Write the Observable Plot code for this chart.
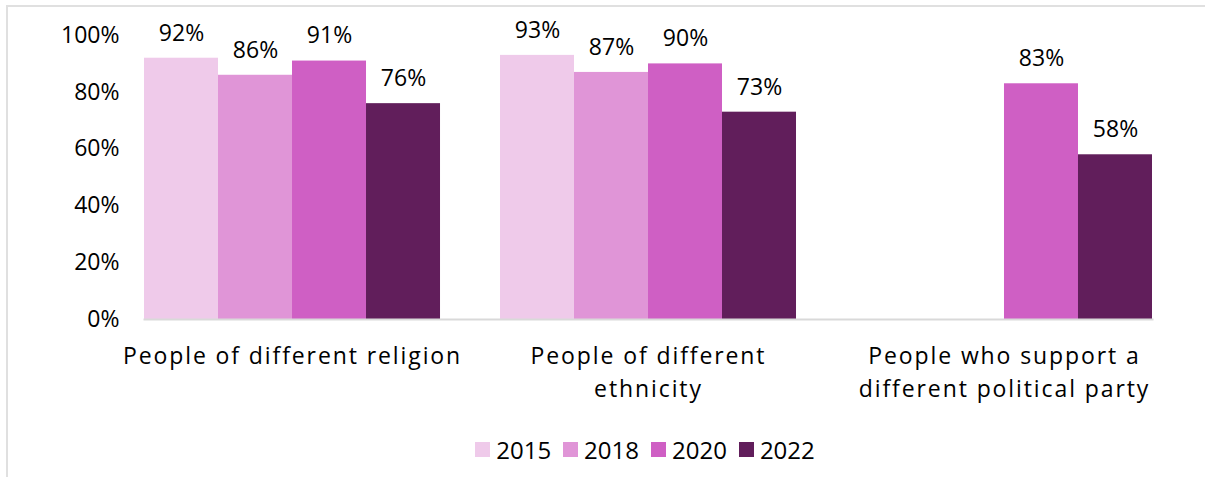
<!DOCTYPE html>
<html>
<head>
<meta charset="utf-8">
<script src="https://cdn.jsdelivr.net/npm/d3@7"></script>
<script src="https://cdn.jsdelivr.net/npm/@observablehq/plot@0.6"></script>
<style>
  html, body { margin: 0; padding: 0; background: #fff; }
  body { width: 1205px; height: 477px; position: relative; overflow: hidden; font-family: "Open Sans", sans-serif; }
  #chart { position: absolute; left: 0; top: 0; }
  #chart g[aria-label="fx-axis tick label"] text { letter-spacing: 1.9px; }
  .bt { position: absolute; left: 6px; top: 5px; width: 1199px; height: 2px; background: #e0e0e0; }
  .bl { position: absolute; left: 6px; top: 5px; width: 2px; height: 472px; background: #e0e0e0; }
  #legend { position: absolute; top: 433px; left: 0; width: 1290px; display: flex; justify-content: center; align-items: center; font-size: 24px; color: #000; }
  .item { display: flex; align-items: center; margin: 0 6px; }
  .sw { width: 15px; height: 15px; margin-right: 6px; }
</style>
</head>
<body>
<div class="bt"></div>
<div class="bl"></div>
<div id="chart"></div>
<div id="legend"></div>
<script>
const categories = ["People of different religion", "People of different ethnicity", "People who support a different political party"];
const categoryLabels = ["People of different religion", "People of different\nethnicity", "People who support a\ndifferent political party"];
const years = ["2015", "2018", "2020", "2022"];
const religion = [92, 86, 91, 76];
const ethnicity = [93, 87, 90, 73];
const political = [null, null, 83, 58];
const colors = ["#EFCAEA", "#E095D7", "#CF5FC4", "#611E5B"];
const yTicks = [0, 20, 40, 60, 80, 100];

const series = [religion, ethnicity, political];
const data = [];
categories.forEach((c, i) => {
  years.forEach((y, j) => {
    const v = series[i][j];
    if (v != null) data.push({category: c, year: y, value: v});
  });
});

const pct = d => d + "%";

const chart = Plot.plot({
  width: 1205,
  height: 420,
  marginLeft: 114,
  marginRight: 23,
  marginTop: 35,
  marginBottom: 101,
  style: {fontFamily: "Open Sans", fontSize: "23px", color: "#000", background: "transparent", overflow: "visible"},
  fx: {domain: categories, paddingInner: 0.1685, paddingOuter: 0.0843, round: false, label: null},
  x: {domain: years, padding: 0, round: false, axis: null},
  y: {domain: [0, 100], label: null},
  color: {domain: years, range: colors},
  marks: [
    Plot.axisY({ticks: yTicks, tickSize: 0, tickPadding: 25, tickFormat: pct, label: null}),
    Plot.axisFx({anchor: "bottom", tickSize: 0, tickPadding: 22, tickFormat: d => categoryLabels[categories.indexOf(d)], lineHeight: 1.4, label: null}),
    Plot.barY(data, {fx: "category", x: "year", y: "value", fill: "year"}),
    Plot.text(data, {fx: "category", x: "year", y: "value", text: d => pct(d.value), dy: -25, fill: "#000"}),
    Plot.frame({anchor: "bottom", facet: "super", stroke: "#d9d9d9", strokeWidth: 2})
  ]
});
document.getElementById("chart").appendChild(chart);

const legend = document.getElementById("legend");
years.forEach((y, i) => {
  const item = document.createElement("div");
  item.className = "item";
  const sw = document.createElement("div");
  sw.className = "sw";
  sw.style.background = colors[i];
  const t = document.createElement("span");
  t.textContent = y;
  item.appendChild(sw);
  item.appendChild(t);
  legend.appendChild(item);
});
</script>
</body>
</html>
